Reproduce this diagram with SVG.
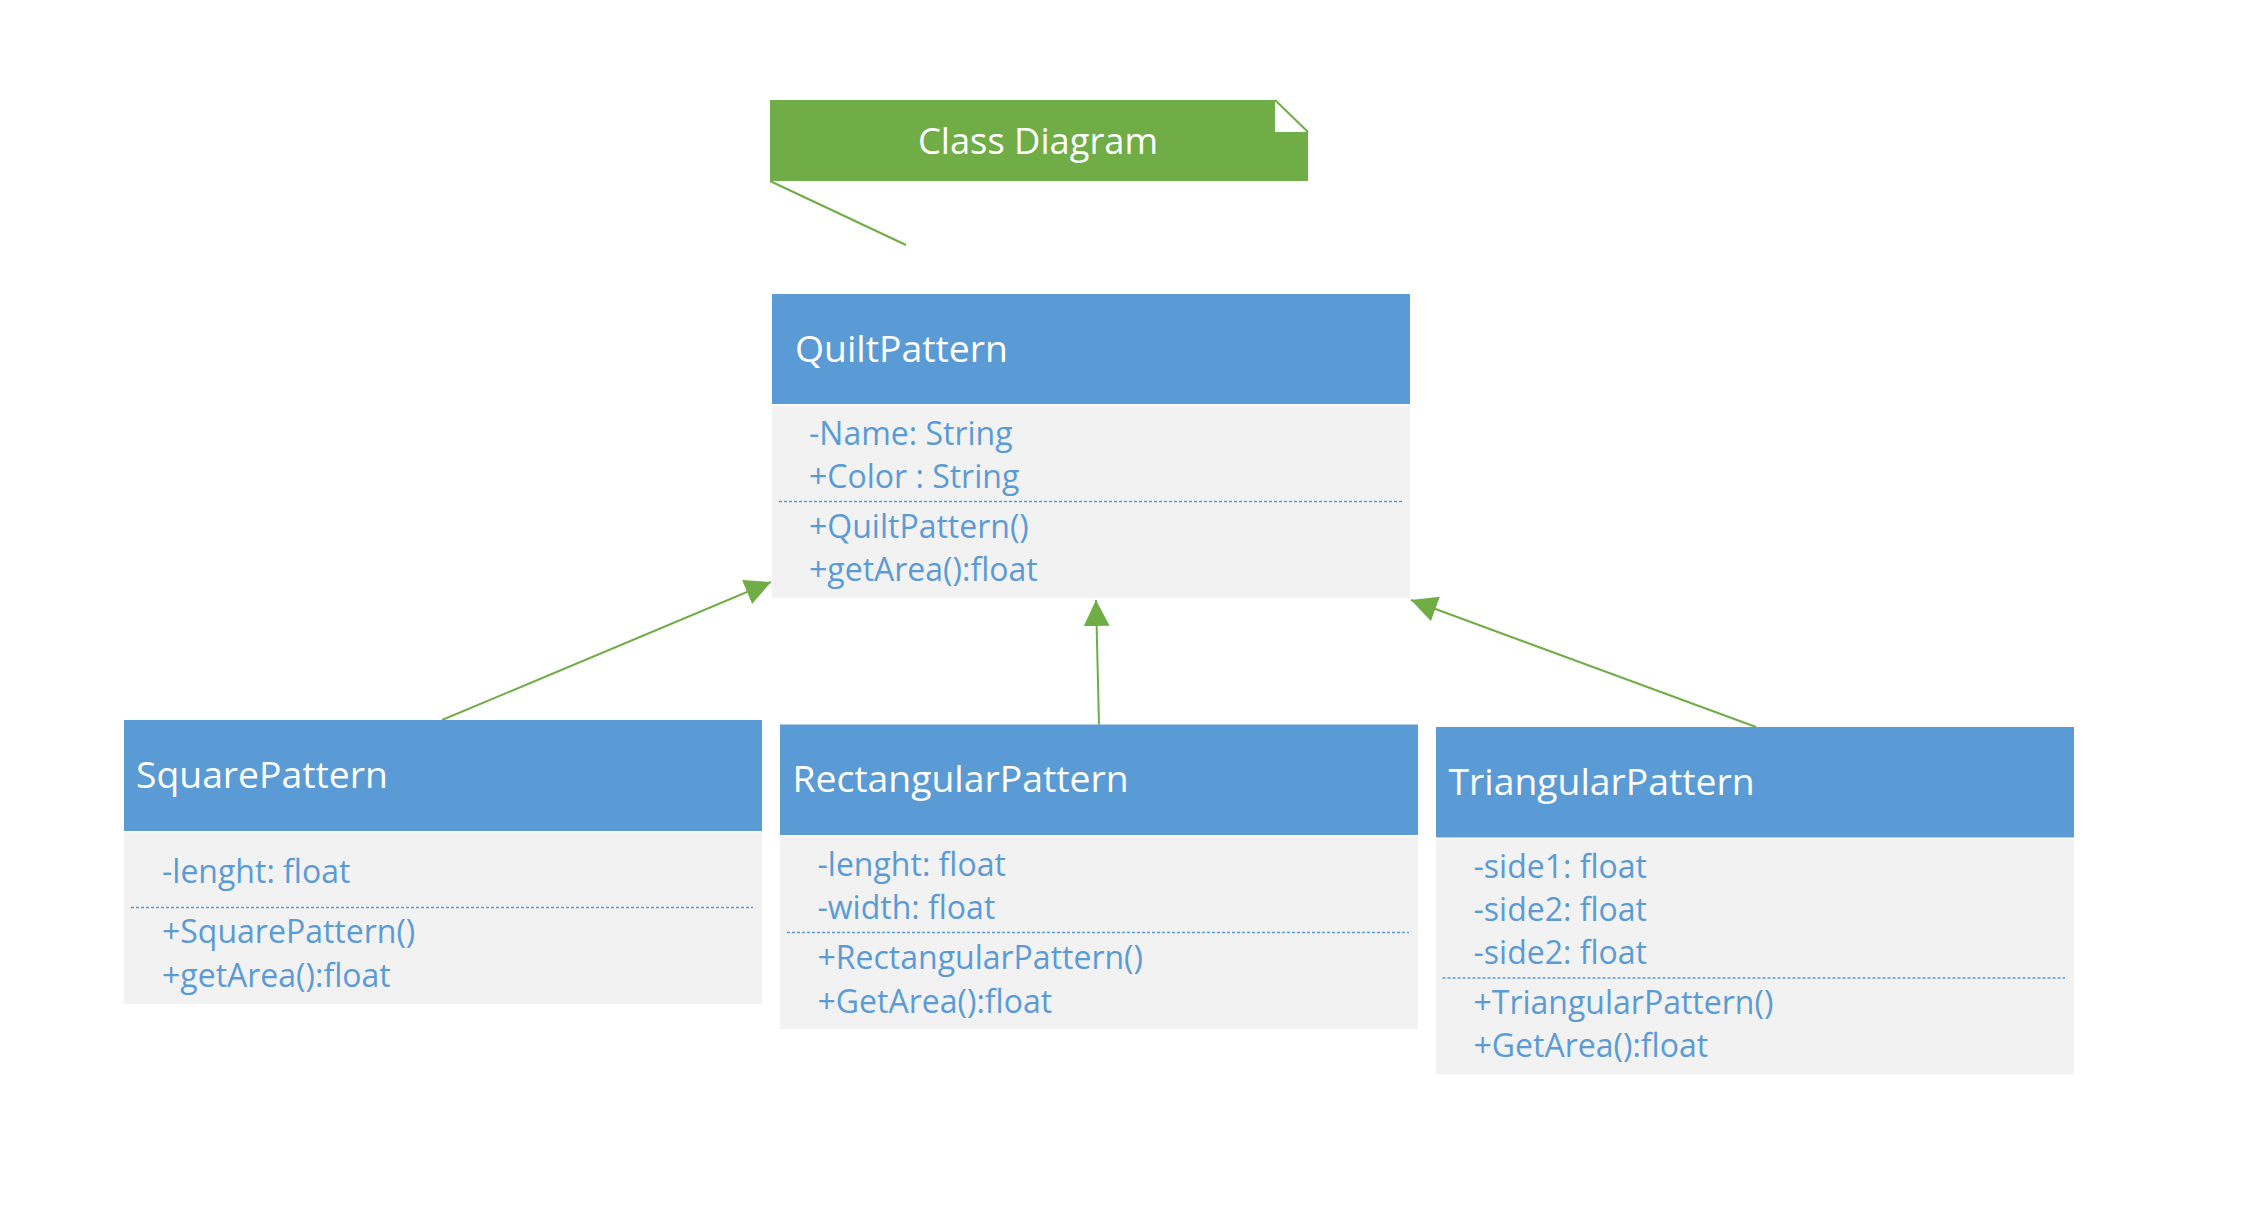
<svg xmlns="http://www.w3.org/2000/svg" width="2268" height="1231" viewBox="0 0 2268 1231">
  <style>
    .hdr { fill: #5B9BD5; }
    .body { fill: #F2F2F2; }
    .title { font-family: "Open Sans", "Noto Sans", sans-serif; font-size: 37.3px; fill: #FFFFFF; }
    .mem { font-family: "Open Sans", "Noto Sans", sans-serif; font-size: 32px; fill: #5B9BD5; }
    .sep { stroke: #5B9BD5; stroke-width: 1.5; stroke-dasharray: 3 2; fill: none; }
    .conn { stroke: #70AD47; stroke-width: 2; fill: none; }
    .note { fill: #70AD47; }
    .notetext { font-family: "Open Sans", "Noto Sans", sans-serif; font-size: 36.3px; fill: #FFFFFF; }
  </style>
  <defs>
    <marker id="tri" markerUnits="userSpaceOnUse" markerWidth="27" markerHeight="27" refX="26" refY="13" orient="auto">
      <path d="M0,0 L26,13 L0,26 Z" fill="#70AD47"/>
    </marker>
  </defs>
  <rect width="2268" height="1231" fill="#FFFFFF"/>

  <g id="note">
    <polygon class="note" points="770,100 1275,100 1275,132 1308,132 1308,181 770,181"/>
    <line x1="1275" y1="100" x2="1308" y2="132" stroke="#70AD47" stroke-width="2"/>
    <text class="notetext" x="1038" y="153.5" text-anchor="middle">Class Diagram</text>
  </g>

  <g id="connectors">
    <line class="conn" x1="770" y1="181" x2="906" y2="245"/>
    <line class="conn" x1="442" y1="720" x2="771" y2="582" marker-end="url(#tri)"/>
    <line class="conn" x1="1099" y1="724.5" x2="1096" y2="600" marker-end="url(#tri)"/>
    <line class="conn" x1="1756" y1="727" x2="1411" y2="600" marker-end="url(#tri)"/>
  </g>

  <g id="QuiltPattern">
    <rect class="hdr" x="772" y="294" width="638" height="110"/>
    <rect class="body" x="772" y="405.5" width="638" height="192.5"/>
    <text class="title" x="795" y="361.5">QuiltPattern</text>
    <text class="mem" x="809" y="445">-Name: String</text>
    <text class="mem" x="809" y="488">+Color : String</text>
    <line class="sep" x1="779" y1="501.5" x2="1402" y2="501.5"/>
    <text class="mem" x="809" y="538">+QuiltPattern()</text>
    <text class="mem" x="809" y="581">+getArea():float</text>
  </g>

  <g id="SquarePattern">
    <rect class="hdr" x="124" y="720" width="638" height="111"/>
    <rect class="body" x="124" y="832.5" width="638" height="171.5"/>
    <text class="title" x="136" y="788">SquarePattern</text>
    <text class="mem" x="162" y="882.5">-lenght: float</text>
    <line class="sep" x1="131" y1="907.5" x2="753" y2="907.5"/>
    <text class="mem" x="162" y="943">+SquarePattern()</text>
    <text class="mem" x="162" y="986.5">+getArea():float</text>
  </g>

  <g id="RectangularPattern">
    <rect class="hdr" x="780" y="724.5" width="638" height="110.5"/>
    <rect class="body" x="780" y="836.5" width="638" height="192.5"/>
    <text class="title" x="792.5" y="791.5">RectangularPattern</text>
    <text class="mem" x="817.5" y="876">-lenght: float</text>
    <text class="mem" x="817.5" y="919">-width: float</text>
    <line class="sep" x1="787" y1="932.5" x2="1409" y2="932.5"/>
    <text class="mem" x="817.5" y="969">+RectangularPattern()</text>
    <text class="mem" x="817.5" y="1012.5">+GetArea():float</text>
  </g>

  <g id="TriangularPattern">
    <rect class="hdr" x="1436" y="727" width="638" height="110.5"/>
    <rect class="body" x="1436" y="839" width="638" height="235.3"/>
    <text class="title" x="1448.5" y="794.5">TriangularPattern</text>
    <text class="mem" x="1473.5" y="877.5">-side1: float</text>
    <text class="mem" x="1473.5" y="920.5">-side2: float</text>
    <text class="mem" x="1473.5" y="963.5">-side2: float</text>
    <line class="sep" x1="1442.5" y1="978" x2="2065" y2="978"/>
    <text class="mem" x="1473.5" y="1013.5">+TriangularPattern()</text>
    <text class="mem" x="1473.5" y="1056.5">+GetArea():float</text>
  </g>
</svg>
